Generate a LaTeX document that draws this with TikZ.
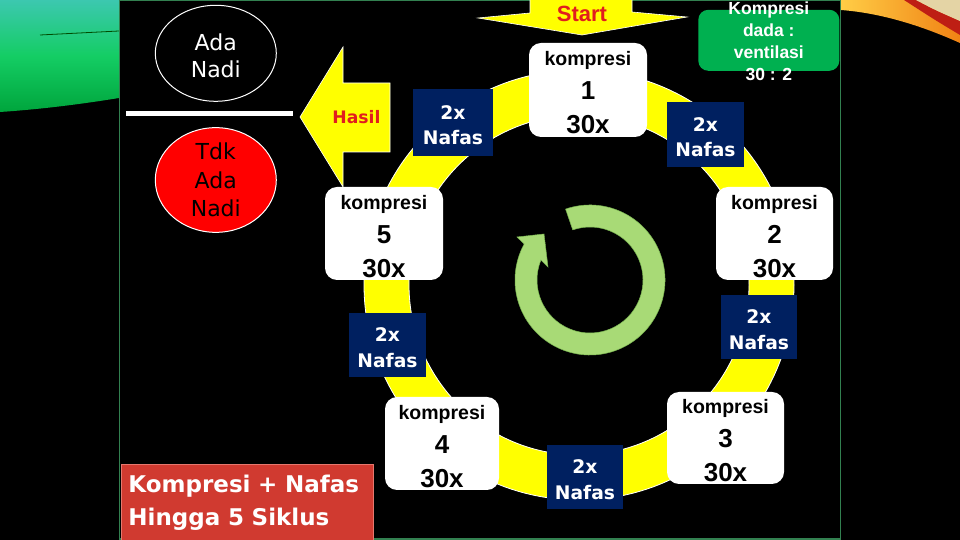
\documentclass[tikz,border=0pt]{standalone}
\usepackage{fontspec}
\setmainfont{Liberation Sans}
\newfontfamily\dvs{DejaVu Sans}
\usetikzlibrary{shapes.geometric}
\definecolor{navy}{RGB}{0,32,96}
\definecolor{ylw}{RGB}{255,255,0}
\definecolor{grn}{RGB}{0,176,80}
\definecolor{lgrn}{RGB}{168,218,118}
\definecolor{lgrnedge}{RGB}{120,180,80}
\definecolor{txtred}{RGB}{225,30,30}
\definecolor{boxred}{RGB}{208,58,48}
\definecolor{boxredge}{RGB}{230,120,110}
\definecolor{framec}{RGB}{50,128,80}
\definecolor{tealA}{RGB}{60,200,175}
\definecolor{greenA}{RGB}{20,205,100}
\definecolor{greenB}{RGB}{0,165,60}
\definecolor{bkA}{RGB}{255,205,70}
\definecolor{bkB}{RGB}{240,130,20}
\definecolor{bkred}{RGB}{190,30,20}
\definecolor{bkcream}{RGB}{228,212,165}
\newcommand\fsz[2]{\fontsize{#1}{#2}\selectfont}
\begin{document}
\begin{tikzpicture}[x=1pt,y=1pt,
  kbox/.style={rectangle, rounded corners=12pt, fill=white, minimum width=117pt, minimum height=93pt, inner sep=0pt, align=center, font=\bfseries\fsz{19.5}{34}},
  nbox/.style={rectangle, fill=navy, minimum width=77pt, minimum height=65pt, inner sep=0pt, align=center, text=white, font=\dvs\bfseries\fsz{18.7}{25.4}},
  arrowshape/.style={fill=ylw, draw=white, line width=0.6pt},
  redtext/.style={text=txtred, inner sep=0pt}
]
\useasboundingbox (0,0) rectangle (960,540);
\fill[black] (0,0) rectangle (960,540);
% decorations outside frame
\shade[top color=tealA, bottom color=greenB, middle color=greenA] (0,540) -- (119,540) -- (119,442) .. controls (70,434) and (30,430) .. (0,428) -- cycle;
\draw[green!30!black, line width=0.8pt] (40,505) .. controls (80,507) .. (119,509);
\shade[left color=bkA, right color=bkB] (841,540) -- (960,540) -- (960,497) .. controls (920,515) and (880,527) .. (841,530) -- cycle;
\fill[bkred] (904,540) -- (916,540) .. controls (935,530) .. (960,519) -- (960,505) .. controls (935,520) .. (904,540) -- cycle;
\fill[bkcream] (916,540) -- (960,540) -- (960,519) .. controls (935,530) .. (916,540) -- cycle;
% frame
\draw[framec, line width=1.5pt] (119.5,0.75) rectangle (840.5,539.25);
% yellow ring
\fill[ylw, draw=white, line width=0.8pt, even odd rule] (579,255) circle[radius=215] (579,255) circle[radius=170];
% green circular arrow
\fill[lgrn, draw=lgrnedge, line width=0.5pt, shift={(590,260)}] (109:75) arc[start angle=109, end angle=-208.7, radius=75] -- (-73,43) -- (-46,46) -- (-42,13) -- (-202.1:53) arc[start angle=-202.1, end angle=109, radius=53] -- cycle;
% Start arrow
\fill[arrowshape] (530,541) -- (530,527) -- (478,522) -- (582,505) -- (687,523) -- (632,528) -- (632,541) -- cycle;
\node[redtext, font=\bfseries\fsz{22}{26}] (start) at (582,526.5) {Start};
% Hasil arrow
\fill[arrowshape] (300,423) -- (343,493) -- (343,457) -- (390,457) -- (390,388) -- (343,388) -- (343,353) -- cycle;
\node[redtext, font=\dvs\bfseries\fsz{17.2}{20}] (hasil) at (356.5,423) {Hasil};
% left status
\node[ellipse, draw=white, line width=1pt, minimum width=121pt, minimum height=96pt, inner sep=0pt, text=white, align=center, font=\dvs\fsz{22}{27}] (ada) at (215.8,486.7) {\rule{0pt}{21pt}Ada\\Nadi};
\draw[white, line width=5pt] (126,426) -- (293,426);
\node[ellipse, draw=white, fill=red, line width=1pt, minimum width=121pt, minimum height=96pt, inner sep=0pt, text=black, align=center, font=\dvs\fsz{22}{28.5}] (tdk) at (215.8,360) {Tdk\\Ada\\Nadi};
% navy boxes
\node[nbox, minimum width=80pt, minimum height=67pt] (n1) at (453,417.5) {\rule{0pt}{19.6pt}2x\\Nafas};
\node[nbox] (n2) at (705.5,405.5) {\rule{0pt}{19.6pt}2x\\Nafas};
\node[nbox, minimum width=76pt, minimum height=64pt] (n3) at (759,213) {\rule{0pt}{19.6pt}2x\\Nafas};
\node[nbox, minimum width=76pt, minimum height=64pt] (n4) at (585,63) {\rule{0pt}{19.6pt}2x\\Nafas};
\node[nbox, minimum height=64pt] (n5) at (387.5,195) {\rule{0pt}{19.6pt}2x\\Nafas};
% kompresi boxes
\node[kbox, minimum width=118pt, minimum height=94pt] (k1) at (588,450) {\rule{0pt}{20pt}kompresi\\{\fsz{26}{34}1}\\{\fsz{26}{34}30x}};
\node[kbox] (k2) at (774.5,306.5) {\rule{0pt}{20pt}kompresi\\{\fsz{26}{34}2}\\{\fsz{26}{34}30x}};
\node[kbox, minimum height=92pt] (k3) at (725.5,102) {\rule{0pt}{20pt}kompresi\\{\fsz{26}{34}3}\\{\fsz{26}{34}30x}};
\node[kbox, minimum width=114pt] (k4) at (442,96.5) {\rule{0pt}{20pt}kompresi\\{\fsz{26}{34}4}\\{\fsz{26}{34}30x}};
\node[kbox, minimum width=118pt] (k5) at (384,306.5) {\rule{0pt}{20pt}kompresi\\{\fsz{26}{34}5}\\{\fsz{26}{34}30x}};
% green ratio box
\node[rectangle, rounded corners=10pt, fill=grn, minimum width=141pt, minimum height=61pt, inner sep=0pt] (gb) at (768.8,499.7) {};
\node[inner sep=0pt, text=white, align=center, font=\bfseries\fsz{17.5}{21.7}] (gbt) at (768.8,498.7) {Kompresi\\dada :\\ventilasi\\30 : 2};
% red summary box
\node[rectangle, fill=boxred, draw=boxredge, line width=0.8pt, anchor=north west, minimum width=252pt, minimum height=77pt, inner xsep=7pt, inner ysep=0pt, text width=238pt, align=left, text=white, font=\dvs\bfseries\fsz{23}{33}] (rb) at (121,76) {Kompresi + Nafas\\Hingga 5 Siklus};
\end{tikzpicture}
\end{document}
